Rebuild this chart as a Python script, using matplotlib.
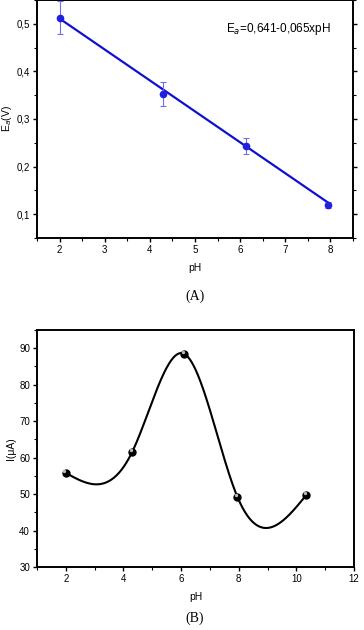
import numpy as np
import matplotlib
matplotlib.use("Agg")
import matplotlib.pyplot as plt
from matplotlib.ticker import MultipleLocator

# Panel A data
ph_a = [2.0, 4.3, 6.12, 7.95]
ea = [0.513, 0.353, 0.244, 0.120]
ea_err = [0.035, 0.025, 0.017, 0.006]
fit_intercept = 0.641
fit_slope = -0.065

# Panel B data
ph_b = [2.0, 4.3, 6.1, 7.95, 10.35]
current = [55.8, 61.5, 88.5, 49.3, 49.8]


def natural_spline(x, y, xs):
    x = np.asarray(x, float); y = np.asarray(y, float)
    n = len(x)
    h = np.diff(x)
    A = np.zeros((n, n)); b = np.zeros(n)
    A[0, 0] = 1; A[-1, -1] = 1
    for i in range(1, n - 1):
        A[i, i - 1] = h[i - 1]
        A[i, i] = 2 * (h[i - 1] + h[i])
        A[i, i + 1] = h[i]
        b[i] = 3 * ((y[i + 1] - y[i]) / h[i] - (y[i] - y[i - 1]) / h[i - 1])
    c = np.linalg.solve(A, b)
    out = np.empty_like(xs)
    for k, xv in enumerate(xs):
        i = min(max(np.searchsorted(x, xv) - 1, 0), n - 2)
        bi = (y[i + 1] - y[i]) / h[i] - h[i] * (2 * c[i] + c[i + 1]) / 3
        di = (c[i + 1] - c[i]) / (3 * h[i])
        dx = xv - x[i]
        out[k] = y[i] + bi * dx + c[i] * dx ** 2 + di * dx ** 3
    return out


plt.rcParams['font.family'] = ['Liberation Sans', 'DejaVu Sans']
fig = plt.figure(figsize=(3.64, 6.30), dpi=100)
W, H = 364, 630

def style(ax):
    for s in ax.spines.values():
        s.set_linewidth(1.4)
    ax.tick_params(axis='both', which='major', labelsize=7, length=3, width=1.0, direction='out', pad=2)
    ax.tick_params(axis='both', which='minor', length=2, width=0.8, direction='out')

# Panel A
axA = fig.add_axes([37 / W, 1 - 238 / H, (353 - 37) / W, 238 / H])
style(axA)
x_fit = np.array([ph_a[0], ph_a[-1]])
axA.plot(x_fit, fit_intercept + fit_slope * x_fit, color='#1010d0', lw=1.6, zorder=2)
axA.errorbar(ph_a, ea, yerr=ea_err, fmt='o', color='#2020e0', ms=4.5,
             ecolor='#7070e8', elinewidth=0.8, capsize=2, capthick=0.8, zorder=3)
axA.set_xlim(1.5, 8.5)
axA.set_ylim(0.05, 0.55)
axA.xaxis.set_major_locator(MultipleLocator(1))
axA.xaxis.set_minor_locator(MultipleLocator(0.5))
axA.set_yticks([0.1, 0.2, 0.3, 0.4, 0.5])
axA.set_yticklabels(['0,1', '0,2', '0,3', '0,4', '0,5'])
axA.yaxis.set_minor_locator(MultipleLocator(0.05))
axA.tick_params(axis='y', which='both', right=True)
axA.tick_params(axis='y', which='both', direction='out')
axA.set_xlabel('pH', fontsize=7.5, labelpad=6)
axA.set_ylabel('E$_a$(V)', fontsize=7.5, labelpad=2)
axA.text(0.93, 0.88, 'E$_a$=0,641-0,065xpH', transform=axA.transAxes,
         ha='right', va='center', fontsize=8.5)
fig.text(195 / W, 1 - 296 / H, '(A)', ha='center', va='center', fontsize=10,
         family='Liberation Serif')

# Panel B
axB = fig.add_axes([37 / W, 1 - 567 / H, (354 - 37) / W, (567 - 330) / H])
style(axB)
xs = np.linspace(ph_b[0], ph_b[-1], 400)
axB.plot(xs, natural_spline(ph_b, current, xs), color='black', lw=1.5, zorder=2)
axB.plot(ph_b, current, 'o', color='black', ms=5, zorder=3)
axB.plot(np.array(ph_b) - 0.05, np.array(current) + 0.5, 'o', color='#bbbbbb', ms=1.4, zorder=4)
axB.set_xlim(1, 12)
axB.set_ylim(30, 95)
axB.xaxis.set_major_locator(MultipleLocator(2))
axB.xaxis.set_minor_locator(MultipleLocator(1))
axB.set_yticks([30, 40, 50, 60, 70, 80, 90])
axB.yaxis.set_minor_locator(MultipleLocator(5))
axB.set_xlabel('pH', fontsize=7.5, labelpad=6)
axB.set_ylabel('I(μA)', fontsize=7.5, labelpad=2)
fig.text(195 / W, 1 - 618 / H, '(B)', ha='center', va='center', fontsize=10,
         family='Liberation Serif')

fig.savefig('out.png', dpi=100)
